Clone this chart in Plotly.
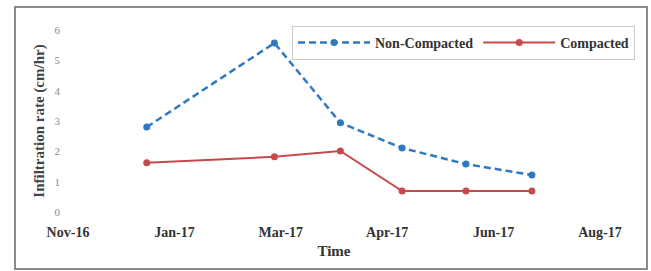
import plotly.graph_objects as go

dates = ["2017-01-02", "2017-03-03", "2017-04-03", "2017-05-02", "2017-06-01", "2017-07-02"]
non_compacted = [2.8, 5.57, 2.94, 2.11, 1.58, 1.22]
compacted = [1.62, 1.82, 2.01, 0.69, 0.69, 0.69]

tick_dates = ["2016-11-26", "2017-01-15", "2017-03-06", "2017-04-25", "2017-06-14", "2017-08-03"]
tick_labels = ["Nov-16", "Jan-17", "Mar-17", "Apr-17", "Jun-17", "Aug-17"]
y_ticks = [0, 1, 2, 3, 4, 5, 6]

serif = "Liberation Serif, Times New Roman, serif"

fig = go.Figure()
fig.add_trace(go.Scatter(
    x=dates, y=non_compacted, name="Non-Compacted", mode="lines+markers",
    line=dict(color="#2f78c2", width=2.5, dash="7px,4px"),
    marker=dict(color="#2f78c2", size=7, symbol="circle"),
))
fig.add_trace(go.Scatter(
    x=dates, y=compacted, name="Compacted", mode="lines+markers",
    line=dict(color="#c9484b", width=2),
    marker=dict(color="#c9484b", size=7, symbol="circle"),
))

L, R, T, B = 68, 51, 30, 59
W, H = 651, 271
pw, ph = W - L - R, H - T - B

def px(x):
    return (x - L) / pw

def py(y):
    return (H - B - y) / ph

fig.add_shape(type="rect", xref="paper", yref="paper",
              x0=px(15), x1=px(647), y0=py(269), y1=py(7),
              line=dict(color="#8a8a8a", width=2), layer="below")

fig.update_layout(
    width=W, height=H,
    margin=dict(l=L, r=R, t=T, b=B, autoexpand=False),
    paper_bgcolor="white", plot_bgcolor="white",
    font=dict(family=serif, color="#333"),
    showlegend=True,
    legend=dict(
        orientation="h", x=px(292), y=py(26), xanchor="left", yanchor="top",
        bordercolor="#c8c8c8", borderwidth=1, bgcolor="white",
        font=dict(family=serif, size=14, color="#333", weight="bold"),
        itemwidth=72, tracegroupgap=0,
    ),
    xaxis=dict(
        type="date", range=[tick_dates[0], tick_dates[-1]],
        tickmode="array", tickvals=tick_dates, ticktext=tick_labels,
        showgrid=False, zeroline=False, showline=False, ticks="",
        tickfont=dict(family=serif, size=14, color="#333", weight="bold"),
        ticklabelstandoff=10,
        title=dict(text="Time", font=dict(family=serif, size=15, color="#333", weight="bold"), standoff=6),
    ),
    yaxis=dict(
        range=[0, 6], tickmode="array", tickvals=y_ticks,
        showgrid=False, zeroline=False, showline=False, ticks="",
        tickfont=dict(family=serif, size=11, color="#888"),
        ticklabelstandoff=7,
        title=dict(text="Infiltration rate (cm/hr)", font=dict(family=serif, size=15, color="#444", weight="bold"), standoff=6),
    ),
)

fig.write_html("out.html", config={"displayModeBar": False},
               post_script="document.body.style.margin='0';")
